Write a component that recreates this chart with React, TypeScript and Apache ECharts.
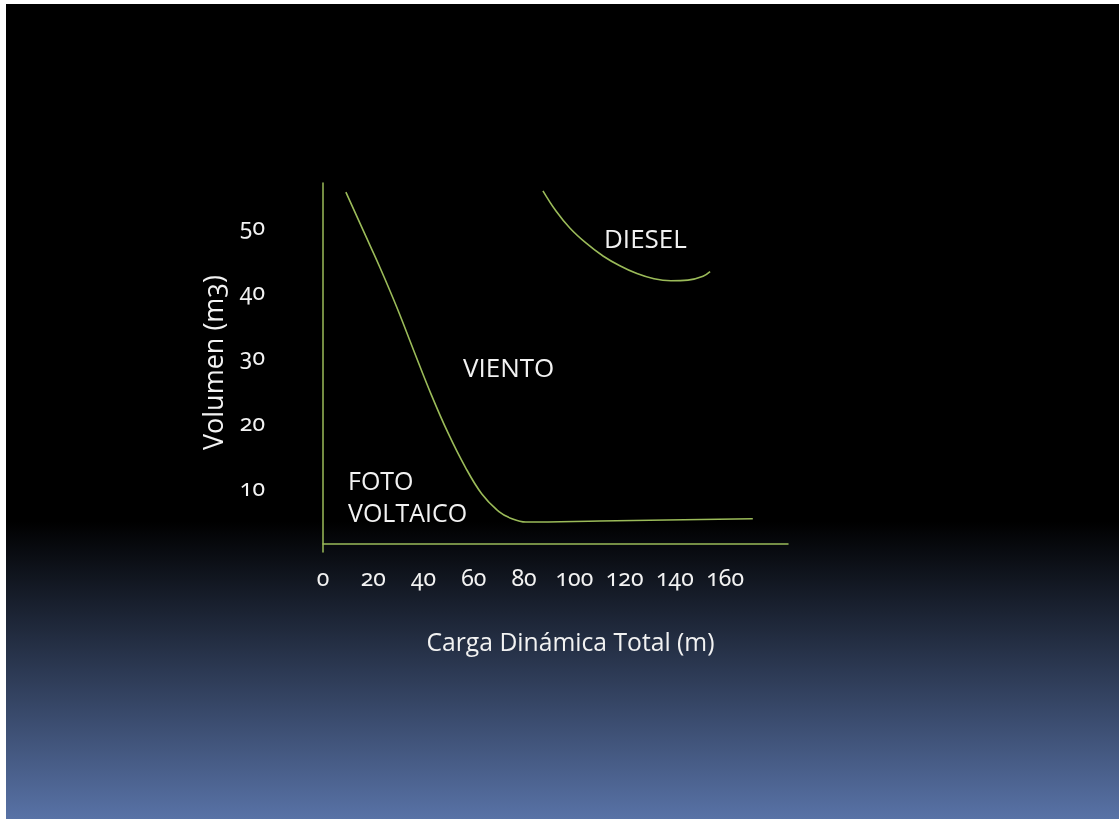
import React, { useEffect, useRef } from "react";
import * as echarts from "echarts";

// Axis ticks / labels
const xTickValues = [0, 20, 40, 60, 80, 100, 120, 140, 160];
const yTickValues = [10, 20, 30, 40, 50];

// Boundary between FOTO VOLTAICO and VIENTO regions
const vientoX = [9.1, 15.9, 22.7, 29.4, 36.2, 42.9, 49.7, 56.5, 63.2, 70.0, 75.2, 80.7, 110.2, 171.0];
const vientoY = [55.2, 49.4, 43.6, 37.5, 30.8, 24.3, 18.3, 13.1, 8.9, 6.2, 5.1, 4.6, 4.75, 5.1];

// Boundary of DIESEL region
const dieselX = [87.5, 92.7, 98.2, 104.6, 111.4, 118.1, 124.9, 131.7, 138.4, 145.2, 151.2, 154.0];
const dieselY = [55.4, 52.3, 49.7, 47.4, 45.4, 43.9, 42.7, 41.9, 41.6, 41.7, 42.3, 43.0];

const regionNames = ["DIESEL", "VIENTO", "FOTO", "VOLTAICO"];
const xAxisName = "Carga Dinámica Total (m)";
const yAxisName = "Volumen (m3)";

const LINE = "#9bbb59";
const TEXT = "#f2f2f2";

export default function App() {
  const ref = useRef<HTMLDivElement>(null);
  useEffect(() => {
    if (!ref.current) return;
    const chart = echarts.init(ref.current, undefined, { renderer: "svg" });
    const zip = (xs: number[], ys: number[]) => xs.map((x, i) => [x, ys[i]]);
    const label = (text: string, x: number, y: number, size: number) => ({
      type: "text",
      x,
      y,
      style: {
        text,
        fill: TEXT,
        fontSize: size,
        fontFamily: "'Open Sans'",
        lineHeight: size,
        verticalAlign: "middle",
      },
    });
    chart.setOption({
      animation: false,
      backgroundColor: "transparent",
      graphic: [
        {
          type: "rect",
          z: -10,
          silent: true,
          shape: { x: 6, y: 4, width: 1113, height: 815 },
          style: {
            fill: new echarts.graphic.LinearGradient(0, 0, 0, 1, [
              { offset: 0, color: "#000000" },
              { offset: 0.635, color: "#000000" },
              { offset: 1, color: "#5872a6" },
            ]),
          },
        },
        label(regionNames[0], 604, 238, 26),
        label(regionNames[1], 463, 367, 26),
        label(regionNames[2], 348, 480, 25),
        label(regionNames[3], 348, 512, 25),
      ],
      grid: { left: 323, right: 331, top: 183, bottom: 267, containLabel: false },
      xAxis: {
        type: "value",
        min: 0,
        max: 185,
        offset: -8,
        splitLine: { show: false },
        axisTick: { show: false },
        axisLine: { show: true, onZero: false, lineStyle: { color: LINE, width: 1.5 } },
        axisLabel: {
          customValues: xTickValues,
          color: TEXT,
          fontSize: 23,
          fontFamily: "'Noto Sans'",
          margin: 21,
        },
        name: xAxisName,
        nameLocation: "middle",
        nameGap: 85,
        nameTextStyle: { color: TEXT, fontSize: 24.7, fontFamily: "'Open Sans'", padding: [0, 0, 0, 30] },
      },
      yAxis: {
        type: "value",
        min: 0,
        max: 56.6,
        splitLine: { show: false },
        axisTick: { show: false },
        axisLine: { show: true, lineStyle: { color: LINE, width: 1.5 } },
        axisLabel: {
          customValues: yTickValues,
          color: TEXT,
          fontSize: 23,
          fontFamily: "'Noto Sans'",
          margin: 58,
        },
        name: yAxisName,
        nameLocation: "middle",
        nameGap: 97,
        nameTextStyle: { color: TEXT, fontSize: 27, fontFamily: "'Open Sans'", padding: [0, 0, 0, 10] },
      },
      series: [
        {
          type: "line",
          data: zip(vientoX, vientoY),
          smooth: 0.4,
          showSymbol: false,
          lineStyle: { color: LINE, width: 1.6 },
        },
        {
          type: "line",
          data: zip(dieselX, dieselY),
          smooth: 0.4,
          showSymbol: false,
          lineStyle: { color: LINE, width: 1.6 },
        },
      ],
    });
    return () => chart.dispose();
  }, []);
  return (
    <>
      <style>{`#chartbox text { font-variant-numeric: oldstyle-nums !important; font-feature-settings: "onum" 1 !important; }`}</style>
      <div
        id="chartbox"
        ref={ref}
        style={{ position: "fixed", left: 0, top: 0, width: 1119, height: 819 }}
      />
    </>
  );
}
